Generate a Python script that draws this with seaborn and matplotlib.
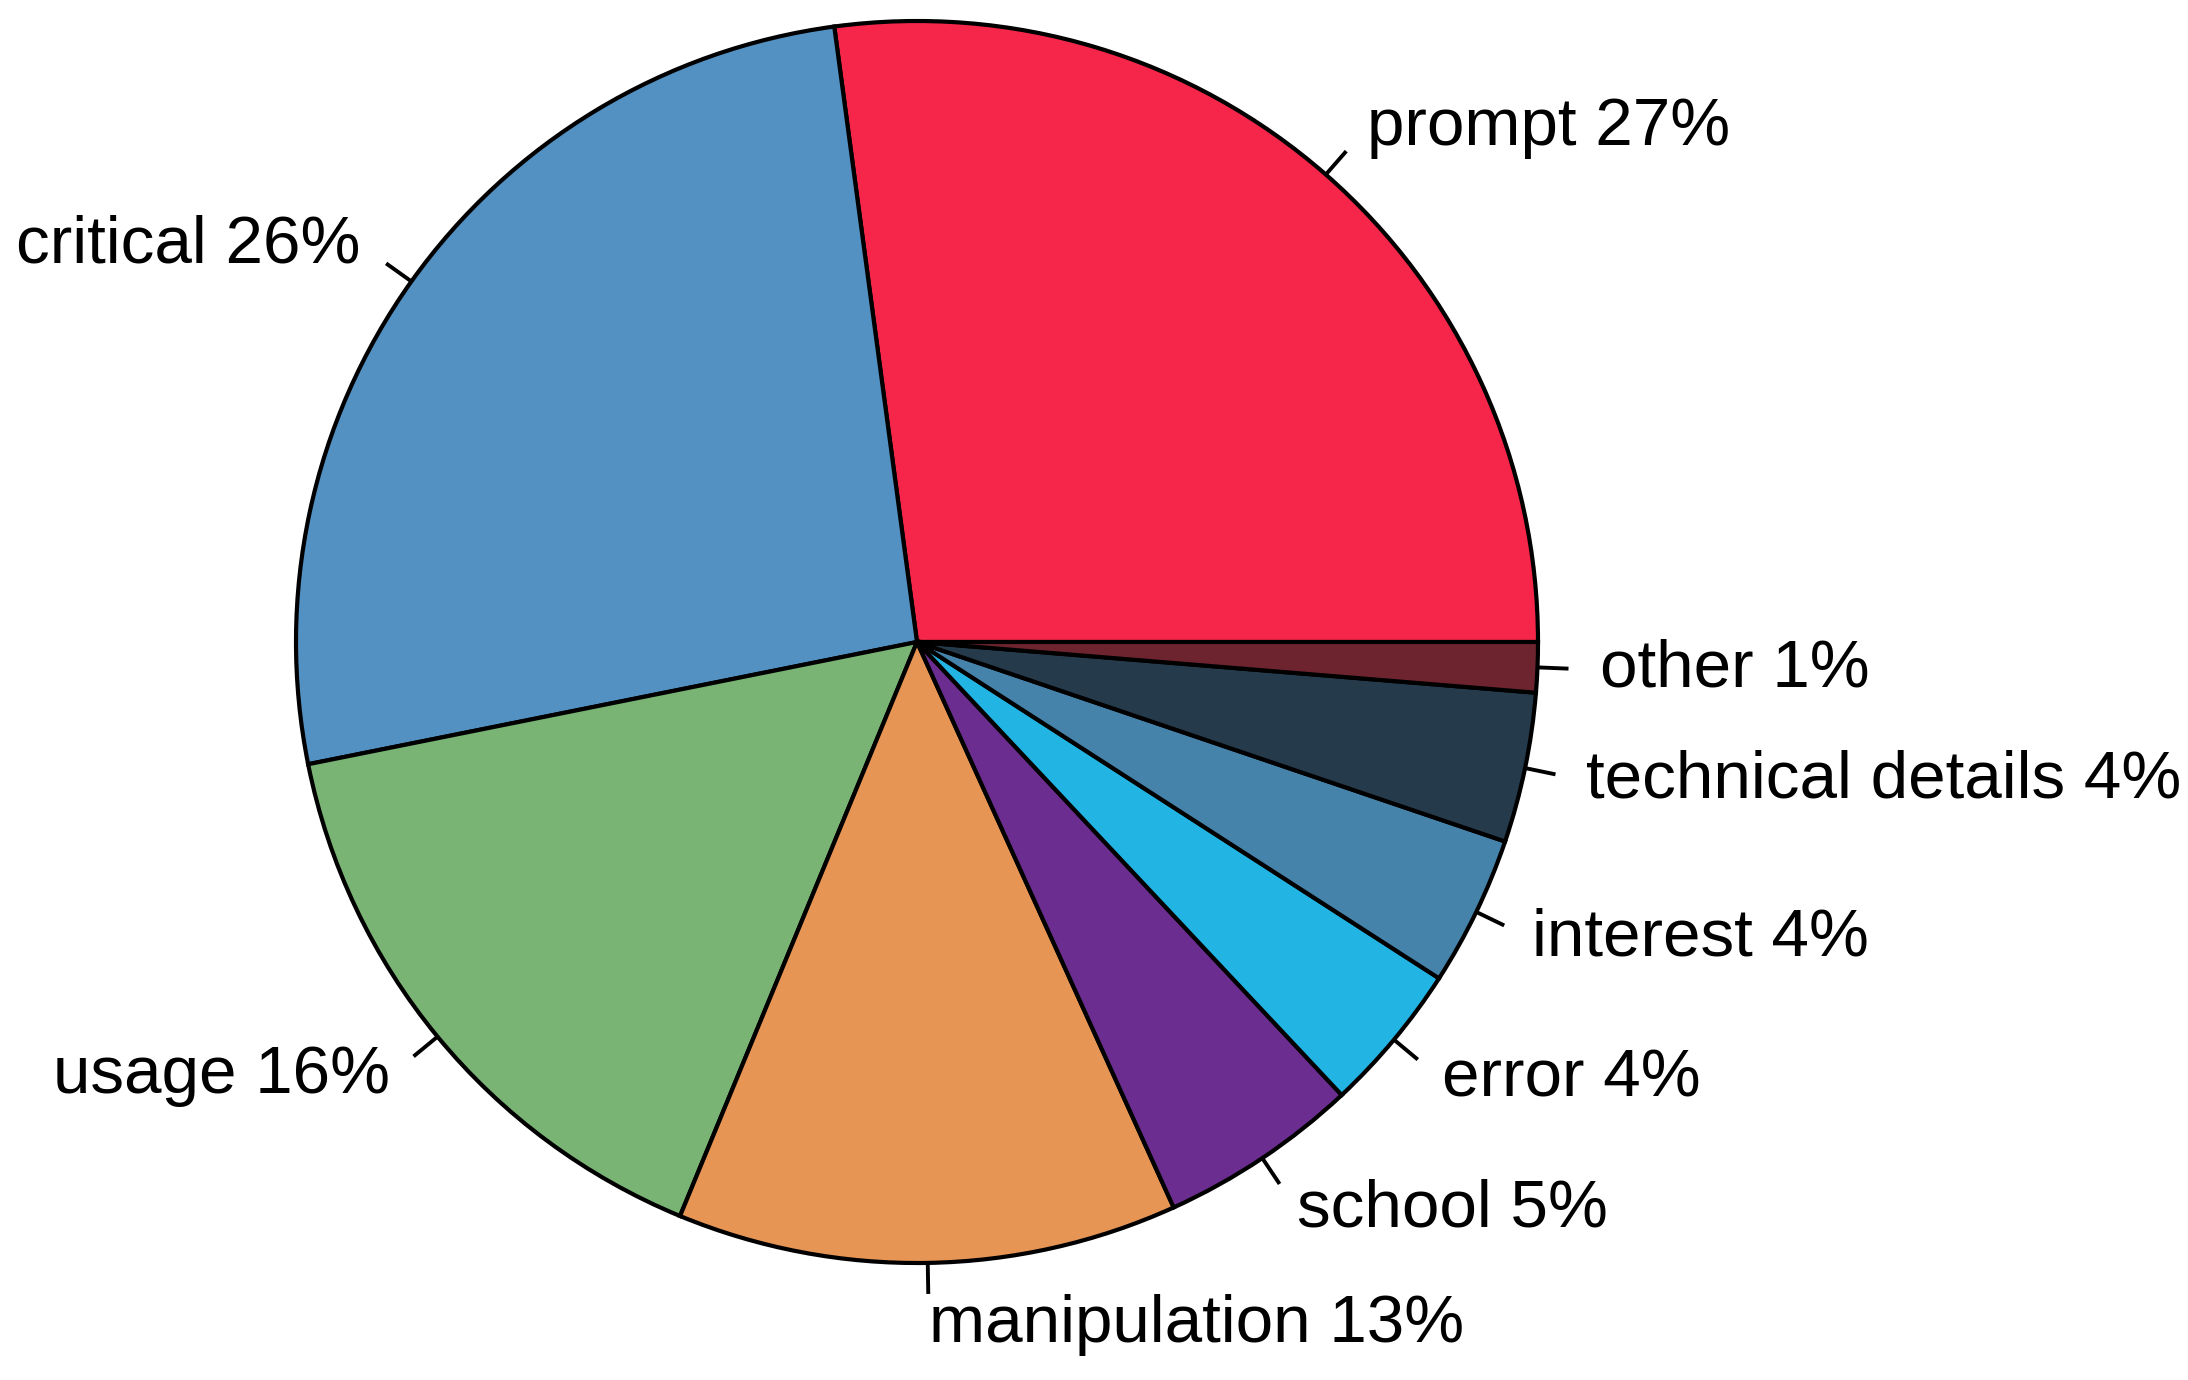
import numpy as np
import matplotlib
matplotlib.use("Agg")
import matplotlib.pyplot as plt
import seaborn as sns

categories = ["prompt", "critical", "usage", "manipulation", "school",
              "error", "interest", "technical details", "other"]
shares = [27.1, 26.0, 15.6, 13.0, 5.2, 3.9, 3.9, 3.9, 1.3]
pct_labels = ["27%", "26%", "16%", "13%", "5%", "4%", "4%", "4%", "1%"]
colors = ["#F6264A", "#5291C2", "#79B475", "#E69555", "#6B2E90",
          "#22B5E3", "#4583AA", "#253A4B", "#6D242E"]

sns.set_theme(style="white")
plt.rcParams["font.family"] = ["Liberation Sans", "DejaVu Sans"]

palette = sns.color_palette(colors)
labels = [f"{c} {p}" for c, p in zip(categories, pct_labels)]

fig = plt.figure(figsize=(21.88, 13.80), dpi=100)
ax = fig.add_axes([0, 0, 1, 1])
wedges, texts = ax.pie(
    shares, labels=labels, colors=palette, startangle=0, counterclock=True,
    labeldistance=1.1, radius=1.0,
    wedgeprops=dict(edgecolor="black", linewidth=3.0),
    textprops=dict(fontsize=48.5, color="black"),
)
for w in wedges:
    mid = np.deg2rad((w.theta1 + w.theta2) / 2)
    ax.plot([np.cos(mid), 1.05 * np.cos(mid)], [np.sin(mid), 1.05 * np.sin(mid)],
            color="black", lw=2.8, solid_capstyle="butt")

ax.set_aspect("auto")
ax.set_xlim(-917 / 621, (2188 - 917) / 621)
ax.set_ylim(-(1380 - 642) / 621, 642 / 621)
ax.axis("off")
fig.savefig("out.png", dpi=100, facecolor="white")
